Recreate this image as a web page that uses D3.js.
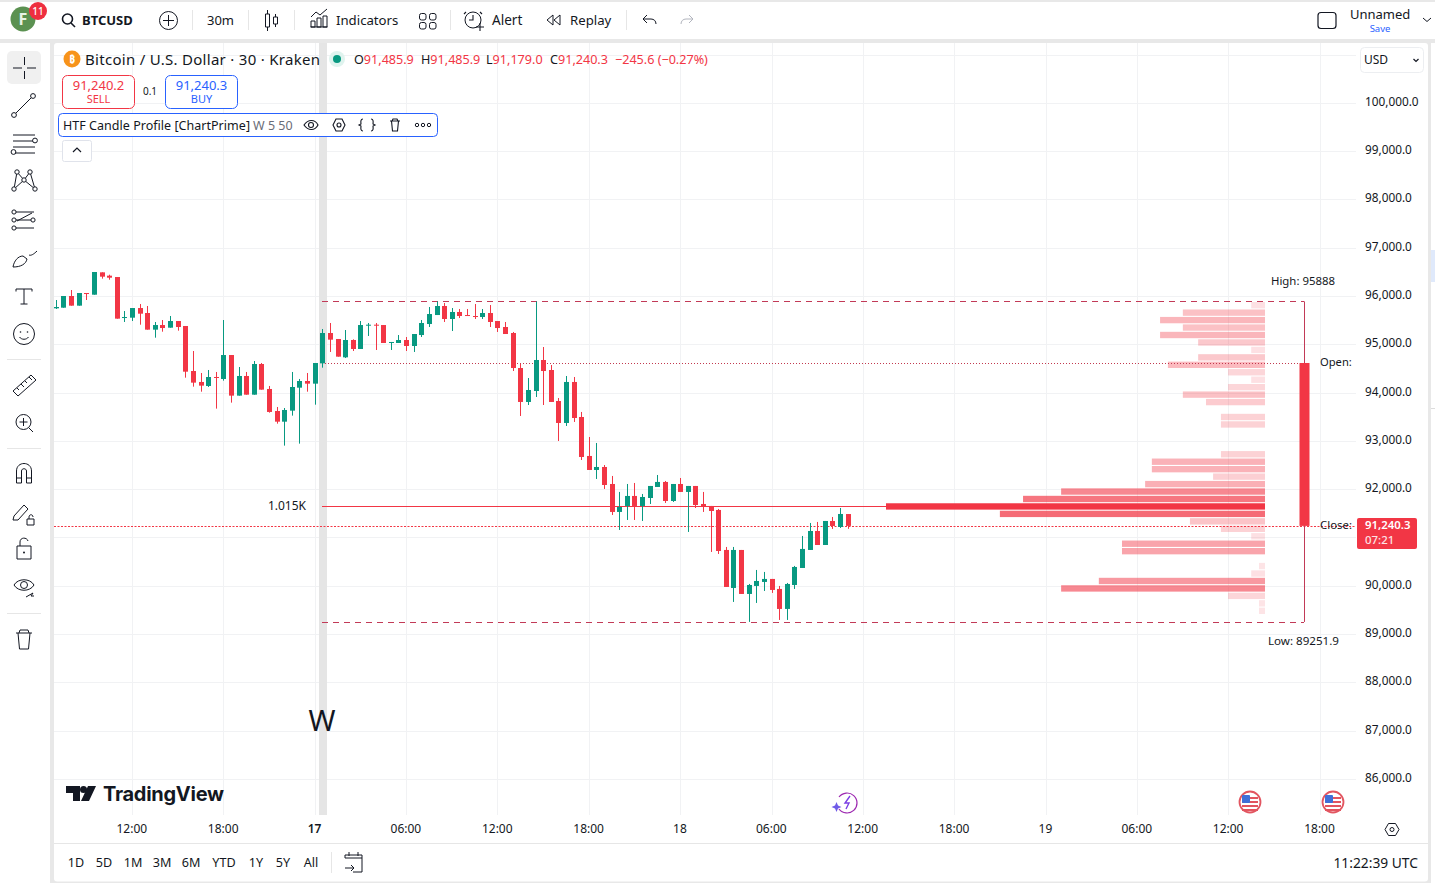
<!DOCTYPE html>
<html><head><meta charset="utf-8">
<script src="https://cdn.jsdelivr.net/npm/d3@7"></script>
<style>html,body{margin:0;padding:0;background:#e8e8e8;overflow:hidden}svg{display:block}text{font-family:"Noto Sans",sans-serif;fill:#131722}</style>
</head><body><svg id="c" width="1435" height="883"></svg>
<script>
// ---- data ----
const opens=[95745,95758,96000,95800,96062,96027,96490,96421,96393,95544,95551,95751,95648,95303,95399,95344,95482,95379,94447,94220,94137,94323,94282,94778,93937,94344,93957,94592,94075,93619,93398,93626,94102,94240,94185,
94606,95234,95110,94730,95089,94903,95386,95406,95399,95034,95027,95089,94965,95192,95420,95606,95793,95524,95669,95606,95586,95565,95648,95482,95358,95234,94509,93806,94033,94675,94468,93826,93371,94220,93495,92688,
92398,92460,92108,91529,91653,91860,91653,91818,92046,92150,91756,92108,91943,92067,91694,91653,91570,90742,89955,90742,89831,89997,90080,90142,89935,89521,90017,90369,90742,91135,90845,91342,91218,91485.9];
const highs=[95917,96000,96124,96062,96062,96497,96490,96441,96393,95689,95751,95834,95793,95462,95503,95586,95482,95379,94861,94406,94468,94427,95503,94778,94530,94427,94654,94613,94137,93702,93681,94427,94282,94406,94613,
95317,95441,95110,95296,95103,95482,95441,95441,95399,95048,95192,95151,95213,95503,95772,95888,95855,95751,95731,95731,95834,95731,95813,95482,95462,95255,94592,94302,95888,94944,94571,93888,94344,94323,93599,93081,
92957,92501,92274,91943,92108,92129,91901,92067,92294,92170,92108,92232,92067,92067,91943,91653,91591,90804,90804,90742,90038,90328,90287,90142,89997,90059,90411,91032,91301,91322,91342,91425,91611,91485.9];
const lows=[95731,95758,95800,95800,95917,96027,96359,96338,95531,95462,95482,95406,95303,95137,95261,95344,95282,94309,94123,94019,94116,93668,94247,93792,93937,93957,93957,94061,93585,93357,92902,93523,92943,94019,93750,
94516,94841,94744,94716,94861,94903,95172,94882,95027,94882,95027,94861,94841,95151,95358,95606,95462,95275,95544,95593,95524,95524,95358,95255,95213,94447,93516,93743,93909,93743,93806,92998,93309,93392,92605,92398,
92212,92005,91466,91156,91363,91363,91342,91694,92046,91715,91736,91943,91115,91611,91529,90701,90659,89976,89666,89831,89252,89645,89893,89852,89293,89293,89935,90369,90742,90845,90845,91177,91197,91179];
const closes=[95772,96000,95800,96062,96041,96497,96400,96379,95531,95565,95751,95634,95303,95399,95337,95482,95358,94433,94206,94144,94323,94309,94778,93937,94344,93957,94592,94061,93599,93398,93640,94116,94240,94185,94613,
95234,95096,94744,95089,94903,95399,95406,95386,95027,95048,95089,94965,95213,95441,95627,95793,95524,95669,95586,95593,95565,95648,95462,95337,95213,94509,93806,94054,94675,94447,93806,93371,94220,93474,92667,92398,
92460,92087,91529,91632,91860,91653,91839,92067,92150,91756,92108,91943,92067,91673,91632,91549,90721,89976,90742,89831,90017,90100,90142,89914,89521,90038,90390,90763,91135,90845,91342,91239,91487,91240.3];
const priceTicks=[100000,99000,98000,97000,96000,95000,94000,93000,92000,90000,89000,88000,87000,86000];
const gridPrices=[101000,100000,99000,98000,97000,96000,95000,94000,93000,92000,91000,90000,89000,88000,87000,86000];
const timeLabels=["12:00","18:00","17","06:00","12:00","18:00","18","06:00","12:00","18:00","19","06:00","12:00","18:00"];
const timeBars=[10,22,34,46,58,70,82,94,106,118,130,142,154,166];
const htfHigh=95888, htfLow=89251.9, htfOpen=94613, htfClose=91240.3, pocPrice=91650, pocVolume=1015;
const profileVolumes=[37,220,281,220,281,179,37,179,260,99,37,99,220,158,0,118,118,0,0,0,118,303,303,139,321,546,648,1015,710,201,118,37,383,383,0,16,37,445,546,99,16,16,0];
const rangeButtons=["1D","5D","1M","3M","6M","YTD","1Y","5Y","All"];
const rangeX=[76,104,133,162,191,224,256,283,311];
const ohlcLegend=[["O","91,485.9"],["H","91,485.9"],["L","91,179.0"],["C","91,240.3"]];
const ohlcLegendX=[354,421,486,550];

// ---- scales ----
const RED="#f23645",GREEN="#089981",INK="#131722",GRID="#f1f2f4";
const y=d3.scaleLinear().domain([100000,86000]).range([102.8,779]);
const x=d3.scaleLinear().domain([10,166]).range([132,1319.7]);
const svg=d3.select("#c");
svg.append("rect").attr("width",1435).attr("height",883).attr("fill","#e8e8e8");
const R=(a,b,w,h,f,r)=>svg.append("rect").attr("x",a).attr("y",b).attr("width",w).attr("height",h).attr("fill",f).attr("rx",r||0);
R(0,2,1435,37,"#fff");R(0,43,50,840,"#fff");R(54,43,1374,838.5,"#fff",3);R(1431,43,4,840,"#fff");
R(1431,250,4,32,"#dfe9fb");R(1431,408,4,1,"#dcdcdc");
svg.append("clipPath").attr("id","plotclip").append("rect").attr("x",54).attr("y",43).attr("width",1302).attr("height",772);

// ---- grid ----
const plot=svg.append("g").attr("clip-path","url(#plotclip)");
plot.selectAll("line.h").data(gridPrices).join("line").attr("class","h").attr("x1",54).attr("x2",1356)
  .attr("y1",d=>Math.round(y(d))+.5).attr("y2",d=>Math.round(y(d))+.5).attr("stroke",GRID);
plot.selectAll("line.v").data(timeBars).join("line").attr("class","v").attr("y1",43).attr("y2",815)
  .attr("x1",d=>Math.round(x(d))+.5).attr("x2",d=>Math.round(x(d))+.5).attr("stroke",GRID);
plot.append("rect").attr("x",319).attr("y",43).attr("width",8).attr("height",772).attr("fill","#e5e5e5");

// ---- profile ----
const step=(htfHigh-htfLow)/43;
const vw=d3.scaleLinear().domain([0,pocVolume]).range([0,379]);
const va=d3.scaleLinear().domain([0,pocVolume]).range([.12,1]);
const RIGHT=1265;
plot.append("g").selectAll("rect").data(profileVolumes).join("rect")
  .attr("x",v=>RIGHT-vw(v)).attr("width",v=>vw(v))
  .attr("y",(v,k)=>y(htfHigh-k*step)+.6).attr("height",y(0)-y(step)-1.1)
  .attr("fill",RED).attr("fill-opacity",v=>va(v));

// ---- HTF lines ----
const L=(a,b,c,d,col,dash,w,par)=>(par||plot).append("line").attr("x1",a).attr("y1",b).attr("x2",c).attr("y2",d).attr("stroke",col).attr("stroke-dasharray",dash||null).attr("stroke-width",w||1);
const sn=v=>Math.round(v)+.5;
const DK="#c23a57";
L(322,sn(y(htfHigh)),1304,sn(y(htfHigh)),DK,"6 5");
L(322,sn(y(htfLow)),1304,sn(y(htfLow)),DK,"6 5");
L(322,sn(y(htfOpen)),1300,sn(y(htfOpen)),"#c2394f","1 2");
L(54,sn(y(htfClose)),1356,sn(y(htfClose)),RED,"2 1.5");
L(322,sn(y(pocPrice)),886,sn(y(pocPrice)),RED);
L(1304.5,y(htfHigh),1304.5,y(htfLow),DK);
plot.append("rect").attr("x",1299.5).attr("width",10).attr("y",y(htfOpen)).attr("height",y(htfClose)-y(htfOpen)).attr("fill",RED);

// ---- candles ----
const bars=d3.range(opens.length);
const gc=plot.append("g");
gc.selectAll("line").data(bars).join("line")
  .attr("x1",i=>sn(x(i))).attr("x2",i=>sn(x(i))).attr("y1",i=>y(highs[i])).attr("y2",i=>y(lows[i]))
  .attr("stroke",i=>closes[i]>=opens[i]?GREEN:RED);
gc.selectAll("rect").data(bars).join("rect")
  .attr("x",i=>sn(x(i))-2.5).attr("width",5)
  .attr("y",i=>y(Math.max(opens[i],closes[i]))).attr("height",i=>Math.max(1,Math.abs(y(opens[i])-y(closes[i]))))
  .attr("fill",i=>closes[i]>=opens[i]?GREEN:RED);

// ---- axes ----
const T=(s,a,b,o={})=>{const t=svg.append("text").text(s).attr("x",a).attr("y",b).attr("dy",".35em").attr("font-size",o.size||12).attr("text-anchor",o.anchor||"start");
 if(o.fill)t.style("fill",o.fill); if(o.weight)t.attr("font-weight",o.weight); if(o.ls)t.style("letter-spacing",o.ls+"px"); return t;};
const axP=svg.append("g").attr("transform","translate(1365,-1.2)")
 .call(d3.axisRight(y).tickValues(priceTicks).tickSize(0).tickPadding(0).tickFormat(d3.format(",.1f")));
axP.select(".domain").remove();
axP.selectAll("text").attr("text-anchor","start").attr("font-size",11.8).style("font-family",'"Noto Sans"').style("fill",INK);
const axT=svg.append("g").attr("transform","translate(-.7,824.5)")
 .call(d3.axisBottom(x).tickValues(timeBars).tickSize(0).tickPadding(0).tickFormat((d,i)=>timeLabels[i]));
axT.select(".domain").remove();
axT.selectAll("text").attr("font-size",12).style("font-family",'"Noto Sans"').style("fill",INK)
 .attr("font-weight",(d,i)=>i===2?600:400);

// ---- plot labels ----
T("W",322,721,{size:29,anchor:"middle"});
T("1.015K",306,506,{anchor:"end"});
T("High: 95888",1303,281,{anchor:"middle",size:11.4});
T("Low: 89251.9",1303.5,640.5,{anchor:"middle",size:11.6});
T("Open:",1320,362,{size:11.2});
T("Close:",1320,525,{size:11.4});
R(1357,518,60,31,RED,2);
T("91,240.3",1365,525.5,{fill:"#fff",weight:600,size:11.4});
T("07:21",1365,540.5,{fill:"#fde3e5",weight:500,size:11.4});

// ---- icon helpers ----
const P=(d,o={})=>svg.append("path").attr("d",d).attr("fill",o.fill||"none").attr("stroke",o.stroke===undefined?INK:o.stroke).attr("stroke-width",o.w||1);
const C=(a,b,r,o={})=>svg.append("circle").attr("cx",a).attr("cy",b).attr("r",r).attr("fill",o.fill||"none").attr("stroke",o.stroke||"none").attr("stroke-width",o.w||1);

// ---- top toolbar ----
C(23,19,12.5,{fill:"#5b9151"});T("F",23,19.5,{fill:"#e8f3e6",size:16,anchor:"middle",weight:700});
C(38,11,9,{fill:"#ee2f3f"});T("11",38,11,{fill:"#fff",size:10,anchor:"middle",weight:500});
C(67.5,19,5,{stroke:INK,w:1.6});P("M71 23 L75 27",{w:1.6});
T("BTCUSD",82,20,{size:13,weight:700});
C(168.5,20.5,9,{stroke:INK});P("M168.5 15v11M163 20.5h11");
[192,248,294,450,626].forEach(v=>L(v+.5,10,v+.5,30,"#e6e6e6",null,1,svg));
T("30m",207,20,{size:13});
P("M265.5 14h4v13h-4zM273.5 17h4v7h-4zM267.500 10v4M267.500 27v4M275.500 14v3M275.500 24v3");
P("M310.5 27h17M311 21v6h4v-6zM317 18v9h4v-9zM323 16v11h4v-11zM311 17l5-5 4 3 7-6");
T("Indicators",336,20,{size:13.2});
[[419,13],[429,13],[419,22],[429,22]].forEach(d=>svg.append("rect").attr("x",d[0]+.5).attr("y",d[1]+.5).attr("width",6.5).attr("height",6.5).attr("rx",2).attr("fill","none").attr("stroke",INK));
C(473,20,8,{stroke:INK});P("M473 15v5h-4M466 12l-2 2M480 12l2 2M476 27h8M480 23v8",{w:1.1});
T("Alert",492,20,{size:13.6});
P("M553 15l-6 5 6 5zM560 15l-6 5 6 5z");
T("Replay",570,20,{size:13.2});
P("M647 15l-4 4 4 4M643 19h8c3 0 5 2 5 5");
P("M689 15l4 4-4 4M693 19h-7c-3 0-5 2-5 5",{stroke:"#b2b5be"});
svg.append("rect").attr("x",1318).attr("y",12.5).attr("width",18).attr("height",16).attr("rx",3).attr("fill","none").attr("stroke",INK).attr("stroke-width",1.2);
T("Unnamed",1350,14.5,{size:13});
T("Save",1380,28.5,{size:9.5,anchor:"middle",fill:"#2962ff"});
P("M1423 18l4 3.5 4-3.5");

// ---- header legend ----
C(72,59,8.5,{fill:"#f7931a"});T("₿",72,59.5,{size:10,anchor:"middle",fill:"#fff",weight:700});
T("Bitcoin / U.S. Dollar · 30 · Kraken",85,59.5,{size:15}).attr("textLength",235);
C(337,59,8,{fill:"#dff3ee"});C(337,59,4,{fill:GREEN});
ohlcLegend.forEach((p,i)=>{const t=T("",ohlcLegendX[i],59.5,{size:12.6});
  t.append("tspan").text(p[0]).style("fill",INK);t.append("tspan").text(p[1]).style("fill",RED);});
T("−245.6 (−0.27%)",615,59.5,{size:12.6,fill:RED});
const box=(a,b,w,h,col,r)=>svg.append("rect").attr("x",a+.5).attr("y",b+.5).attr("width",w).attr("height",h).attr("rx",r).attr("fill","#fff").attr("stroke",col);
box(62,75,72,33,RED,5);T("91,240.2",98.5,85,{anchor:"middle",fill:RED,size:13});T("SELL",98.5,99,{anchor:"middle",fill:RED,size:11});
T("0.1",150,91,{anchor:"middle",size:10});
box(165,75,72,33,"#2962ff",5);T("91,240.3",201.5,85,{anchor:"middle",fill:"#2962ff",size:13});T("BUY",201.5,99,{anchor:"middle",fill:"#2962ff",size:11});
box(58,113,379,23,"#2962ff",4);
T("HTF Candle Profile [ChartPrime]",63,125.5,{size:12.5}).attr("textLength",187);
T("W 5 50",253,125.5,{size:12.5,fill:"#6a6d78"});
P("M304 125c4-6 11-6 14 0c-3 6-10 6-14 0z",{w:1.1});C(311,125,2.5,{stroke:INK,w:1.1});
P("M336 119h6l3 6-3 6h-6l-3-6z",{w:1.1});C(339,125,2,{stroke:INK,w:1.1});
P("M363 119c-3 0-2 4-2 5l-2 1 2 1c0 1-1 5 2 5M371 119c3 0 2 4 2 5l2 1-2 1c0 1 1 5-2 5",{w:1.1});
P("M390 121h10M392 121l1-2h4l1 2M391.500 121l1 10h5l1-10",{w:1.1});
[417,423,429].forEach(v=>C(v,125,1.7,{stroke:INK,w:1}));
box(62,140,29,21,"#e0e3eb",2);P("M73 152l4-4 4 4",{w:1.2});

// ---- USD ----
box(1360,47,63,25,"#eceef1",4);T("USD",1364,59.5,{size:12});P("M1413.500 59l2.500 2.500 2.500-2.500",{w:1.2});

// ---- left tools ----
R(7,51,34,33,"#f0f0f0",5);
P("M13 68h9M27 68h9M24.500 57v8M24.500 71v8");
P("M15 114L32 97");C(14,115,2.4,{stroke:INK,fill:"#fff"});C(33,96,2.4,{stroke:INK,fill:"#fff"});
P("M13 135h22M13 141h20M13 147h22M15 153h20");C(35,140.500,2.4,{stroke:INK});C(13.500,152,2.4,{stroke:INK});
P("M17 172l-3 17M17 172l7 8 6-8 5 17M14 189l10-9 11 9");[[17,172],[30,172],[24,180],[14,189],[35,189]].forEach(d=>C(d[0],d[1],2.2,{stroke:INK,fill:"#fff"}));
P("M15 212h19M15 220h19M15 228h19");P("M17 221l15-8",{});[[14,212],[14,220],[33,220],[14,228]].forEach(d=>C(d[0],d[1],2.1,{stroke:INK,fill:"#fff"}));
P("M13 267c1-6 5-11 10-11l4 3c-1 5-6 8-14 8zM29 255c2 1 5-1 8-4");
P("M16 289h16M24 289v15M20.500 304h7M16 289v2.500M32 289v2.500");
C(24,334,10.500,{stroke:INK});C(20.500,332,.8,{fill:INK});C(27.500,332,.8,{fill:INK});P("M19.500 337c2 3 7 3 9 0");
[[359],[448],[613]].forEach(d=>L(7,d[0]+.5,41,d[0]+.5,"#e6e6e6",null,1,svg));
P("M13 391l18-16 5 5-18 16zM17 388l2 2M21 384l3 3M25 381l2 2M29 377l3 3");
C(23.500,422,7.500,{stroke:INK});P("M23.500 418v8M19.500 422h8M29 428l4 4");
P("M16.500 483v-12c0-10 15-10 15 0v12h-5v-12c0-3-5-3-5 0v12zM16.500 478h5M26.500 478h5");
P("M14 516l10-11 4 4-10 11h-5zM27 519h7v6h-7zM29 519v-2c0-3 4-3 4 0");
P("M17 546h14v13h-14zM20 546v-4c0-5 7-5 8-1");C(24,552.500,1,{fill:INK});
P("M14 585c4-7 16-7 20 0c-4 7-16 7-20 0z");C(24,585,3.500,{stroke:INK});P("M26 597l7-4-2 3h3");
P("M16 633h16M19 633l1-3h8l1 3M18 633l1.500 16h9l1.500-16");

// ---- logo ----
P("M66 786h14v15h-7v-8h-7z",{fill:INK,stroke:"none"});C(83.500,789.500,3.500,{fill:INK});
P("M88 786h8l-7 15h-8z",{fill:INK,stroke:"none"});
T("TradingView",103,794,{size:20,weight:700}).style("font-family","Inter").attr("textLength",121);

// ---- events ----
const flag=(a)=>{C(a,802,10.500,{fill:"#fff",stroke:"#e25560",w:1.8});
 [797,801,805,809].forEach(v=>R(a-8,v,16,2,"#e25560"));R(a-8,795,8,8,"#3f6fd8",1);};
flag(1250);flag(1333);
P("M839 797a10 10 0 1 1 0 12",{stroke:"#9c27b0",w:1.2});
P("M850 796l-5 7h4l-3 6",{stroke:"#7b3fe4",w:1.4});
P("M836.500 802l1.500 3.500 3.500 1.500-3.500 1.500-1.500 3.500-1.500-3.500-3.500-1.500 3.500-1.500z",{fill:"#6f5be8",stroke:"none"});

// ---- bottom ----
L(54,843.5,1428,843.5,"#e6e6e6",null,1,svg);
rangeButtons.forEach((b,i)=>T(b,rangeX[i],863,{anchor:"middle",size:12.6}));
L(331.5,852,331.5,873,"#e6e6e6",null,1,svg);
P("M345 858v-3h17v17h-9M345 858h17M349 852v4M358 852v4M345 868h9m-3-3l3 3-3 3");
T("11:22:39 UTC",1418,863,{anchor:"end",size:13.8});
P("M1388.500 823.500h7l3.500 6-3.500 6h-7l-3.500-6z");C(1392,829.500,2,{stroke:INK});
</script></body></html>
